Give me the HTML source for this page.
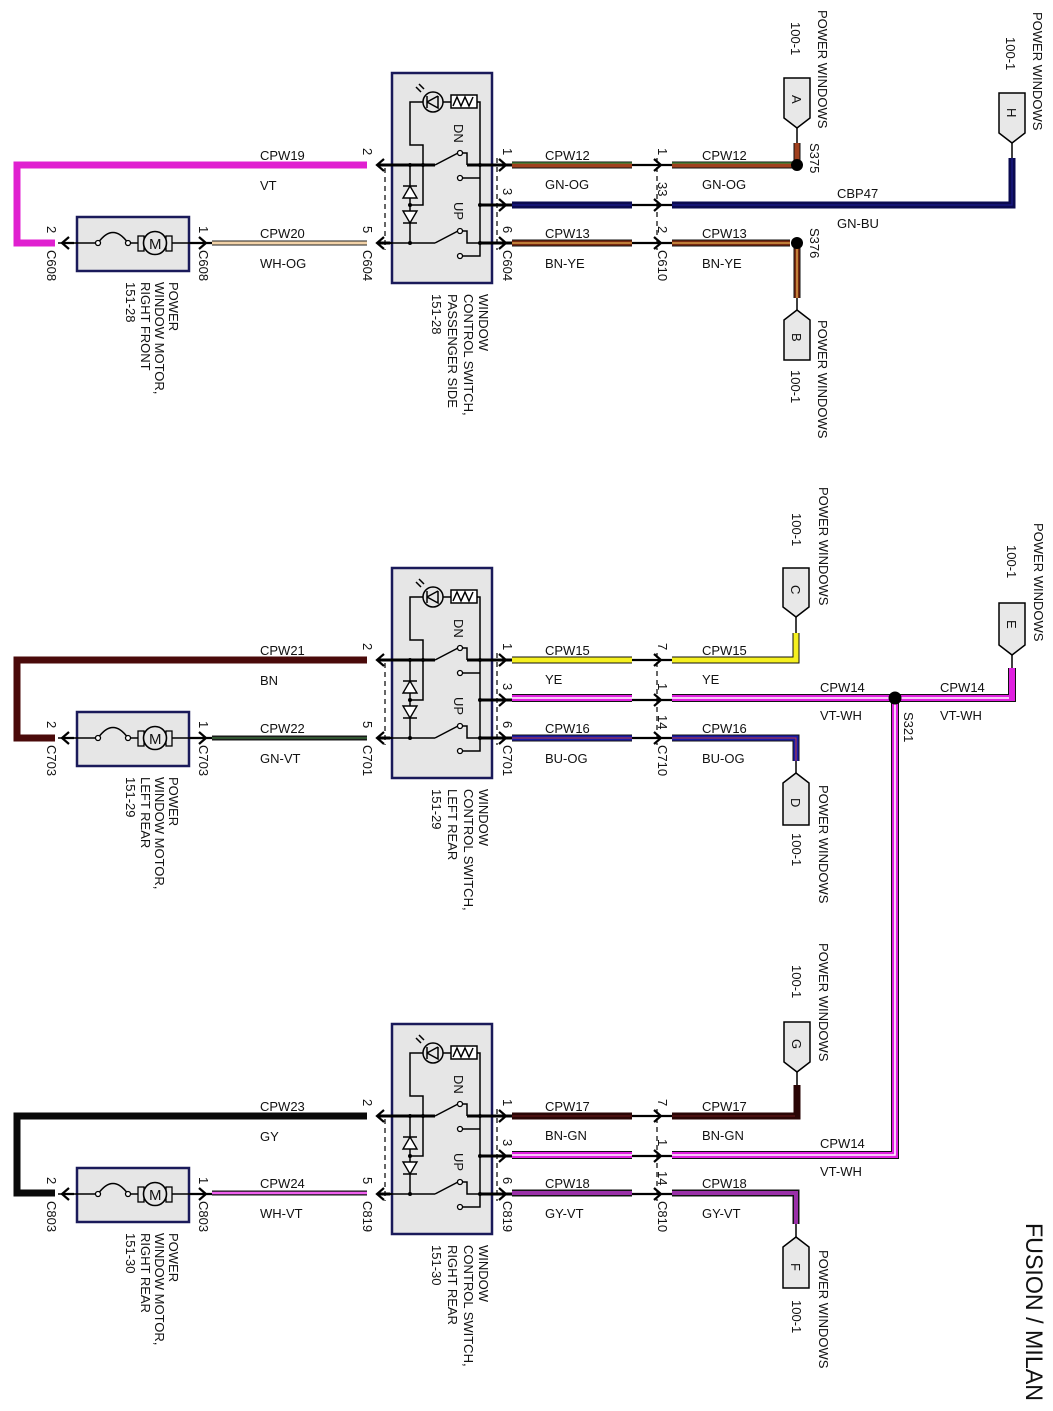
<!DOCTYPE html>
<html><head><meta charset="utf-8"><style>
html,body{margin:0;padding:0;background:#fff}
svg{display:block}
text{font-family:"Liberation Sans",sans-serif;font-size:13px;fill:#111}
.bx{fill:#e6e6e6;stroke:#1a1a5a;stroke-width:2.5}
.ln{fill:none;stroke:#000;stroke-width:1.5}
.tk{fill:none;stroke:#000;stroke-width:3}
.ds{fill:none;stroke:#000;stroke-width:1.2;stroke-dasharray:5,4}
.ar{fill:none;stroke:#000;stroke-width:2.2}
.w{fill:none;stroke-linejoin:miter}
.cn{fill:#e8e8e8;stroke:#000;stroke-width:1.5}
</style></head><body>
<svg width="1053" height="1411" viewBox="0 0 1053 1411" xmlns="http://www.w3.org/2000/svg">
<defs>
<g id="common">
  <!-- motor -->
  <rect class="bx" x="77" y="217" width="112" height="54"/>
  <path class="ln" d="M58,243 H98 M98,243 Q113,222 128,243 M128,243 H140 M170,243 H210"/>
  <circle cx="98" cy="243" r="2.5" fill="#fff" stroke="#000" stroke-width="1.3"/>
  <circle cx="128" cy="243" r="2.5" fill="#fff" stroke="#000" stroke-width="1.3"/>
  <rect x="138" y="236" width="6" height="15" fill="#e6e6e6" stroke="#000" stroke-width="1.3"/>
  <rect x="166" y="236" width="6" height="15" fill="#e6e6e6" stroke="#000" stroke-width="1.3"/>
  <circle cx="155" cy="243" r="11.5" fill="#e6e6e6" stroke="#000" stroke-width="1.6"/>
  <text x="149" y="249" style="font-size:15px">M</text>
  <!-- switch box -->
  <rect class="bx" x="392" y="73" width="100" height="210"/>
  <circle cx="433" cy="102" r="10" fill="none" stroke="#000" stroke-width="1.5"/>
  <path class="ln" d="M427,96 V108 M427,102 L438,96 M438,96 V108 L427,102"/>
  <path class="ln" d="M421,92 l-5,-5 M424,89 l-5,-5"/>
  <rect x="451" y="95" width="26" height="13" fill="#fff" stroke="#000" stroke-width="1.5"/>
  <path class="ln" d="M453,106 l4,-9 l4,9 l4,-9 l4,9 l4,-9"/>
  <path class="ln" d="M423,102 H410 V145 H423 V205 H410"/>
  <path class="ln" d="M443,102 H451 M477,102 H480 V256 H462"/>
  <path class="tk" d="M380,165 H435 M467,165 H512"/>
  <path class="ln" d="M435,165 L458,153 M463,153 H467 V165 M462,178 H480 M480,205 H512"/>
  <circle cx="460" cy="153" r="2.5" fill="#fff" stroke="#000" stroke-width="1.3"/>
  <circle cx="460" cy="178" r="2.5" fill="#fff" stroke="#000" stroke-width="1.3"/>
  <path class="tk" d="M480,205 H512 M480,243 H512 M380,243 H390"/>
  <path class="ln" d="M380,243 H435 M435,243 L458,231 M463,231 H467 V243 H480"/>
  <circle cx="460" cy="231" r="2.5" fill="#fff" stroke="#000" stroke-width="1.3"/>
  <circle cx="460" cy="256" r="2.5" fill="#fff" stroke="#000" stroke-width="1.3"/>
  <path class="ln" d="M410,165 V243"/>
  <path d="M403,198 L417,198 L410,186 Z" fill="#fff" stroke="#000" stroke-width="1.4"/>
  <path class="ln" d="M403,186 H417"/>
  <path d="M403,211 L417,211 L410,223 Z" fill="#fff" stroke="#000" stroke-width="1.4"/>
  <path class="ln" d="M403,223 H417"/>
  <circle cx="410" cy="165" r="2" fill="#000"/><circle cx="423" cy="165" r="2" fill="#000"/>
  <circle cx="410" cy="243" r="2" fill="#000"/><circle cx="480" cy="165" r="2" fill="#000"/>
  <circle cx="480" cy="205" r="2" fill="#000"/><circle cx="480" cy="243" r="2" fill="#000"/>
  <circle cx="410" cy="205" r="2" fill="#000"/>
  <text transform="translate(454,124) rotate(90)">DN</text>
  <text transform="translate(454,202) rotate(90)">UP</text>
  <!-- dashed -->
  <path class="ds" d="M385,168 V250 M497,158 V250 M657,158 V250"/>
  <!-- arrows -->
  <path class="ar" d="M69,237 L62,243 L69,249 M62,243 H74"/>
  <path class="ar" d="M384,159 L377,165 L384,171 M377,165 H392"/>
  <path class="ar" d="M384,237 L377,243 L384,249 M377,243 H392"/>
  <path class="ar" d="M199,237 L206,243 L199,249 M190,243 H212"/>
  <path class="ar" d="M499,159 L506,165 L499,171 M492,165 H512"/>
  <path class="ar" d="M499,199 L506,205 L499,211 M492,205 H512"/>
  <path class="ar" d="M499,237 L506,243 L499,249 M492,243 H512"/>
  <path class="ar" d="M654,159 L661,165 L654,171 M632,165 H672"/>
  <path class="ar" d="M654,199 L661,205 L654,211 M632,205 H672"/>
  <path class="ar" d="M654,237 L661,243 L654,249 M632,243 H672"/>
</g>
</defs>

<!-- ============ SECTION 1 ============ -->
<use href="#common"/>
<path class="w" d="M367,165 H17 V243 H55" stroke="#e020d0" stroke-width="7"/>
<path class="w" d="M212,243 H367" stroke="#222" stroke-width="5"/>
<path class="w" d="M212,243 H367" stroke="#f2d2a8" stroke-width="3"/>
<!-- GN-OG -->
<path class="w" d="M512,165 H632 M672,165 H795 M797,165 V143" stroke="#111" stroke-width="7"/>
<path class="w" d="M512,165 H632 M672,165 H795 M797,165 V143" stroke="#a0401e" stroke-width="5"/>
<path class="w" d="M512,163 H632 M672,163 H795" stroke="#3a8a3a" stroke-width="1.3"/>
<path class="ln" d="M797,143 V128"/>
<circle cx="797" cy="165" r="6" fill="#000"/>
<!-- GN-BU -->
<path class="w" d="M512,205 H632 M672,205 H1012 V158" stroke="#0a0a50" stroke-width="7"/>
<path class="w" d="M512,205 H632 M672,205 H1012 V158" stroke="#1a1a8a" stroke-width="1.2"/>
<path class="ln" d="M1012,158 V143"/>
<!-- BN-YE -->
<path class="w" d="M512,243 H632 M672,243 H790 M797,243 V298" stroke="#111" stroke-width="7"/>
<path class="w" d="M512,243 H632 M672,243 H790 M797,243 V298" stroke="#7a2a10" stroke-width="5"/>
<path class="w" d="M512,243 H632 M672,243 H790 M797,243 V298" stroke="#e8b050" stroke-width="1.3"/>
<path class="ln" d="M797,298 V310"/>
<circle cx="797" cy="243" r="6" fill="#000"/>
<!-- connectors -->
<path class="cn" d="M784,78 H810 V118 L797,128 L784,118 Z"/>
<text transform="translate(792,95) rotate(90)">A</text>
<path class="cn" d="M999,93 H1025 V133 L1012,143 L999,133 Z"/>
<text transform="translate(1007,108) rotate(90)">H</text>
<path class="cn" d="M784,360 H810 V320 L797,310 L784,320 Z"/>
<text transform="translate(792,333) rotate(90)">B</text>
<text transform="translate(818,10) rotate(90)">POWER WINDOWS</text>
<text transform="translate(791,22) rotate(90)">100-1</text>
<text transform="translate(1033,12) rotate(90)">POWER WINDOWS</text>
<text transform="translate(1006,37) rotate(90)">100-1</text>
<text transform="translate(818,320) rotate(90)">POWER WINDOWS</text>
<text transform="translate(791,370) rotate(90)">100-1</text>
<text transform="translate(810,143) rotate(90)">S375</text>
<text transform="translate(810,228) rotate(90)">S376</text>
<!-- labels -->
<text x="260" y="160">CPW19</text><text x="260" y="190">VT</text>
<text x="260" y="238">CPW20</text><text x="260" y="268">WH-OG</text>
<text x="545" y="160">CPW12</text><text x="545" y="189">GN-OG</text>
<text x="702" y="160">CPW12</text><text x="702" y="189">GN-OG</text>
<text x="837" y="198">CBP47</text><text x="837" y="228">GN-BU</text>
<text x="545" y="238">CPW13</text><text x="545" y="268">BN-YE</text>
<text x="702" y="238">CPW13</text><text x="702" y="268">BN-YE</text>
<text transform="translate(47,226) rotate(90)">2</text>
<text transform="translate(47,250) rotate(90)">C608</text>
<text transform="translate(199,226) rotate(90)">1</text>
<text transform="translate(199,250) rotate(90)">C608</text>
<text transform="translate(363,148) rotate(90)">2</text>
<text transform="translate(363,226) rotate(90)">5</text>
<text transform="translate(363,250) rotate(90)">C604</text>
<text transform="translate(503,148) rotate(90)">1</text>
<text transform="translate(503,188) rotate(90)">3</text>
<text transform="translate(503,226) rotate(90)">6</text>
<text transform="translate(503,250) rotate(90)">C604</text>
<text transform="translate(658,148) rotate(90)">1</text>
<text transform="translate(658,182) rotate(90)">33</text>
<text transform="translate(658,226) rotate(90)">2</text>
<text transform="translate(658,250) rotate(90)">C610</text>
<text transform="translate(169,282) rotate(90)">POWER</text>
<text transform="translate(155,282) rotate(90)">WINDOW MOTOR,</text>
<text transform="translate(141,282) rotate(90)">RIGHT FRONT</text>
<text transform="translate(126,282) rotate(90)">151-28</text>
<text transform="translate(479,294) rotate(90)">WINDOW</text>
<text transform="translate(464,294) rotate(90)">CONTROL SWITCH,</text>
<text transform="translate(448,294) rotate(90)">PASSENGER SIDE</text>
<text transform="translate(432,294) rotate(90)">151-28</text>

<!-- ============ SECTION 2 ============ -->
<g transform="translate(0,495)">
<use href="#common"/>
<path class="w" d="M367,165 H17 V243 H55" stroke="#4a0a0a" stroke-width="7"/>
<path class="w" d="M212,243 H367" stroke="#1a1a1a" stroke-width="5"/>
<path class="w" d="M212,243 H367" stroke="#3a6a3a" stroke-width="1.5"/>
<!-- YE -->
<path class="w" d="M512,165 H632 M672,165 H796 V138" stroke="#111" stroke-width="7"/>
<path class="w" d="M512,165 H632 M672,165 H796 V138" stroke="#f5f020" stroke-width="5"/>
<path class="ln" d="M796,138 V122"/>
<!-- VT-WH -->
<path class="w" d="M512,203 H632 M672,203 H1012 V173" stroke="#111" stroke-width="8"/>
<path class="w" d="M512,203 H632 M672,203 H1012 V173" stroke="#e020e0" stroke-width="6"/>
<path class="w" d="M512,203 H632 M672,203 H1009" stroke="#fff" stroke-width="1.6"/>
<path class="ln" d="M1012,173 V160"/>
<!-- BU-OG -->
<path class="w" d="M512,243 H632 M672,243 H796 V266" stroke="#111" stroke-width="7"/>
<path class="w" d="M512,243 H632 M672,243 H796 V266" stroke="#1a1aa8" stroke-width="5"/>
<path class="w" d="M512,243 H632 M672,243 H796 V266" stroke="#c04040" stroke-width="1"/>
<path class="ln" d="M796,266 V278"/>
<path class="cn" d="M783,73 H809 V112 L796,122 L783,112 Z"/>
<text transform="translate(791,90) rotate(90)">C</text>
<path class="cn" d="M999,108 H1025 V150 L1012,160 L999,150 Z"/>
<text transform="translate(1007,125) rotate(90)">E</text>
<path class="cn" d="M783,330 H809 V288 L796,278 L783,288 Z"/>
<text transform="translate(791,303) rotate(90)">D</text>
<text transform="translate(819,-8) rotate(90)">POWER WINDOWS</text>
<text transform="translate(792,18) rotate(90)">100-1</text>
<text transform="translate(1034,28) rotate(90)">POWER WINDOWS</text>
<text transform="translate(1007,50) rotate(90)">100-1</text>
<text transform="translate(819,290) rotate(90)">POWER WINDOWS</text>
<text transform="translate(792,338) rotate(90)">100-1</text>
<text x="260" y="160">CPW21</text><text x="260" y="190">BN</text>
<text x="260" y="238">CPW22</text><text x="260" y="268">GN-VT</text>
<text x="545" y="160">CPW15</text><text x="545" y="189">YE</text>
<text x="702" y="160">CPW15</text><text x="702" y="189">YE</text>
<text x="820" y="197">CPW14</text><text x="820" y="225">VT-WH</text>
<text x="940" y="197">CPW14</text><text x="940" y="225">VT-WH</text>
<text x="545" y="238">CPW16</text><text x="545" y="268">BU-OG</text>
<text x="702" y="238">CPW16</text><text x="702" y="268">BU-OG</text>
<text transform="translate(47,226) rotate(90)">2</text>
<text transform="translate(47,250) rotate(90)">C703</text>
<text transform="translate(199,226) rotate(90)">1</text>
<text transform="translate(199,250) rotate(90)">C703</text>
<text transform="translate(363,148) rotate(90)">2</text>
<text transform="translate(363,226) rotate(90)">5</text>
<text transform="translate(363,250) rotate(90)">C701</text>
<text transform="translate(503,148) rotate(90)">1</text>
<text transform="translate(503,188) rotate(90)">3</text>
<text transform="translate(503,226) rotate(90)">6</text>
<text transform="translate(503,250) rotate(90)">C701</text>
<text transform="translate(658,148) rotate(90)">7</text>
<text transform="translate(658,188) rotate(90)">1</text>
<text transform="translate(658,220) rotate(90)">14</text>
<text transform="translate(658,250) rotate(90)">C710</text>
<text transform="translate(169,282) rotate(90)">POWER</text>
<text transform="translate(155,282) rotate(90)">WINDOW MOTOR,</text>
<text transform="translate(141,282) rotate(90)">LEFT REAR</text>
<text transform="translate(126,282) rotate(90)">151-29</text>
<text transform="translate(479,294) rotate(90)">WINDOW</text>
<text transform="translate(464,294) rotate(90)">CONTROL SWITCH,</text>
<text transform="translate(448,294) rotate(90)">LEFT REAR</text>
<text transform="translate(432,294) rotate(90)">151-29</text>
</g>

<!-- S321 long run -->
<path class="w" d="M895,698 V1155 H672 M632,1155 H512" stroke="#111" stroke-width="8"/>
<path class="w" d="M895,698 V1155 H672 M632,1155 H512" stroke="#e020e0" stroke-width="6"/>
<path class="w" d="M895,698 V1155 H672 M632,1155 H512" stroke="#fff" stroke-width="1.6"/>
<circle cx="895" cy="698" r="6.5" fill="#000"/>
<text transform="translate(904,712) rotate(90)">S321</text>

<!-- ============ SECTION 3 ============ -->
<g transform="translate(0,951)">
<use href="#common"/>
<path class="w" d="M367,165 H17 V242 H55" stroke="#0a0a0a" stroke-width="7"/>
<path class="w" d="M212,242 H367" stroke="#111" stroke-width="5"/>
<path class="w" d="M212,242 H367" stroke="#f060f0" stroke-width="2.5"/>
<!-- BN-GN -->
<path class="w" d="M512,165 H632 M672,165 H797 V134" stroke="#2a0606" stroke-width="7"/>
<path class="w" d="M512,165 H632 M672,165 H795" stroke="#6a1a1a" stroke-width="1"/>
<path class="ln" d="M797,134 V121"/>
<!-- GY-VT -->
<path class="w" d="M512,242 H632 M672,242 H796 V273" stroke="#111" stroke-width="7"/>
<path class="w" d="M512,242 H632 M672,242 H796 V273" stroke="#9a30a8" stroke-width="4"/>
<path class="ln" d="M796,273 V286"/>
<path class="cn" d="M784,71 H810 V111 L797,121 L784,111 Z"/>
<text transform="translate(792,88) rotate(90)">G</text>
<path class="cn" d="M783,337 H809 V296 L796,286 L783,296 Z"/>
<text transform="translate(791,312) rotate(90)">F</text>
<text transform="translate(819,-8) rotate(90)">POWER WINDOWS</text>
<text transform="translate(792,14) rotate(90)">100-1</text>
<text transform="translate(819,299) rotate(90)">POWER WINDOWS</text>
<text transform="translate(792,349) rotate(90)">100-1</text>
<text x="260" y="160">CPW23</text><text x="260" y="190">GY</text>
<text x="260" y="237">CPW24</text><text x="260" y="267">WH-VT</text>
<text x="545" y="160">CPW17</text><text x="545" y="189">BN-GN</text>
<text x="702" y="160">CPW17</text><text x="702" y="189">BN-GN</text>
<text x="820" y="197">CPW14</text><text x="820" y="225">VT-WH</text>
<text x="545" y="237">CPW18</text><text x="545" y="267">GY-VT</text>
<text x="702" y="237">CPW18</text><text x="702" y="267">GY-VT</text>
<text transform="translate(47,226) rotate(90)">2</text>
<text transform="translate(47,250) rotate(90)">C803</text>
<text transform="translate(199,226) rotate(90)">1</text>
<text transform="translate(199,250) rotate(90)">C803</text>
<text transform="translate(363,148) rotate(90)">2</text>
<text transform="translate(363,226) rotate(90)">5</text>
<text transform="translate(363,250) rotate(90)">C819</text>
<text transform="translate(503,148) rotate(90)">1</text>
<text transform="translate(503,188) rotate(90)">3</text>
<text transform="translate(503,226) rotate(90)">6</text>
<text transform="translate(503,250) rotate(90)">C819</text>
<text transform="translate(658,148) rotate(90)">7</text>
<text transform="translate(658,188) rotate(90)">1</text>
<text transform="translate(658,220) rotate(90)">14</text>
<text transform="translate(658,250) rotate(90)">C810</text>
<text transform="translate(169,282) rotate(90)">POWER</text>
<text transform="translate(155,282) rotate(90)">WINDOW MOTOR,</text>
<text transform="translate(141,282) rotate(90)">RIGHT REAR</text>
<text transform="translate(126,282) rotate(90)">151-30</text>
<text transform="translate(479,294) rotate(90)">WINDOW</text>
<text transform="translate(464,294) rotate(90)">CONTROL SWITCH,</text>
<text transform="translate(448,294) rotate(90)">RIGHT REAR</text>
<text transform="translate(432,294) rotate(90)">151-30</text>
</g>

<text transform="translate(1026,1223) rotate(90)" style="font-size:24px" textLength="178" lengthAdjust="spacingAndGlyphs">FUSION / MILAN</text>
</svg>
</body></html>
